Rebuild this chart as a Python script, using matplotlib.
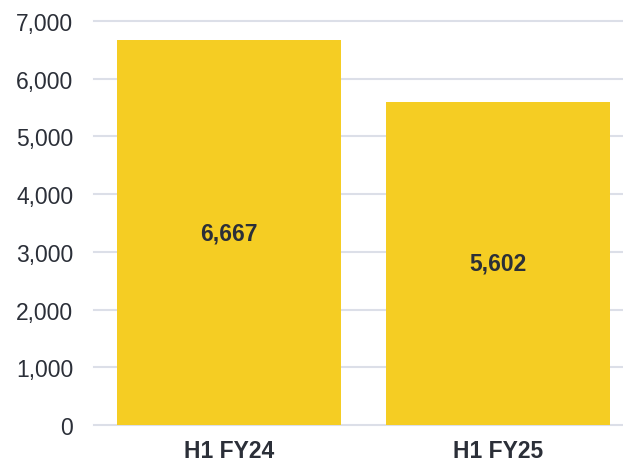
import matplotlib.pyplot as plt
from matplotlib.ticker import FuncFormatter

categories = ["H1 FY24", "H1 FY25"]
values = [6667, 5602]
y_ticks = [0, 1000, 2000, 3000, 4000, 5000, 6000, 7000]

BAR_COLOR = "#f5cd23"
GRID_COLOR = "#dcdfe8"
TEXT_COLOR = "#2b2f38"

plt.rcParams["font.family"] = ["Liberation Sans", "DejaVu Sans"]

fig = plt.figure(figsize=(6.23, 4.64), dpi=100)
ax = fig.add_axes([94 / 623, 38 / 464, 529 / 623, 404 / 464])

x = list(range(len(categories)))
ax.bar(x, values, width=0.833, color=BAR_COLOR, zorder=2)
for xi, v in zip(x, values):
    ax.text(xi, v / 2, f"{v:,}", ha="center", va="center", fontsize=16.5,
            fontweight="bold", color=TEXT_COLOR, zorder=3)

ax.set_xlim(-0.502, 1.465)
ax.set_ylim(0, 7000)
ax.set_yticks(y_ticks)
ax.yaxis.set_major_formatter(FuncFormatter(lambda v, _: f"{int(v):,}"))
ax.set_xticks(x)
ax.set_xticklabels(categories, fontweight="bold")
ax.tick_params(axis="y", length=0, pad=15, labelsize=16.5, labelcolor=TEXT_COLOR)
ax.tick_params(axis="x", length=0, pad=10, labelsize=16.5, labelcolor=TEXT_COLOR)

for t in y_ticks:
    ax.axhline(t, color=GRID_COLOR, linewidth=1.5, zorder=1, clip_on=False)
for s in ax.spines.values():
    s.set_visible(False)

fig.savefig("out.png", dpi=100, facecolor="white")
